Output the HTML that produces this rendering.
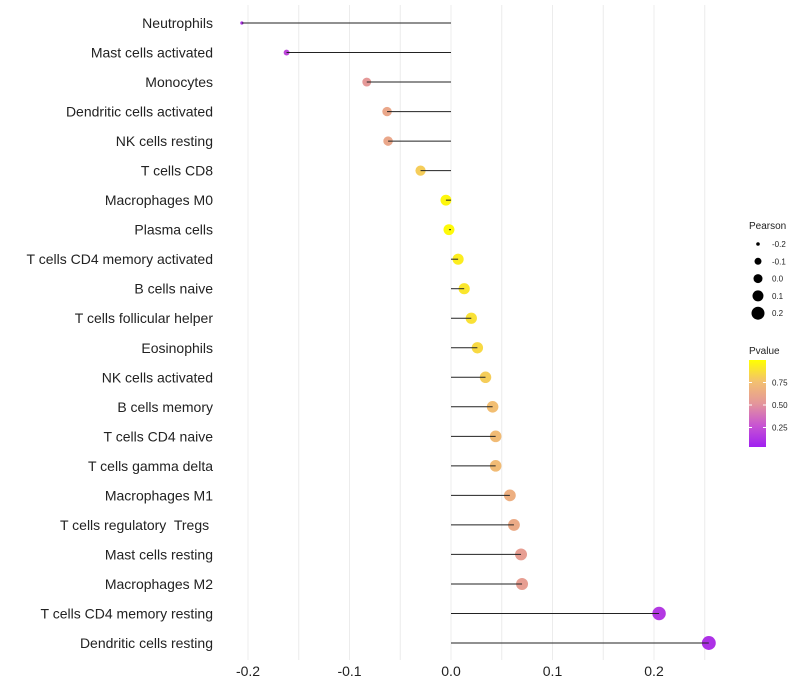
<!DOCTYPE html>
<html><head><meta charset="utf-8"><style>
html,body{margin:0;padding:0;background:#fff;}
svg{display:block;font-family:"Liberation Sans",sans-serif;}
text{white-space:pre;}
</style></head><body>
<svg id="chart" width="800" height="700"></svg>
<script>
const categories=["Neutrophils","Mast cells activated","Monocytes","Dendritic cells activated","NK cells resting","T cells CD8","Macrophages M0","Plasma cells","T cells CD4 memory activated","B cells naive","T cells follicular helper","Eosinophils","NK cells activated","B cells memory","T cells CD4 naive","T cells gamma delta","Macrophages M1","T cells regulatory  Tregs ","Mast cells resting","Macrophages M2","T cells CD4 memory resting","Dendritic cells resting"];
const pearson=[-0.206,-0.162,-0.083,-0.063,-0.062,-0.030,-0.005,-0.002,0.007,0.013,0.020,0.026,0.034,0.041,0.044,0.044,0.058,0.062,0.069,0.070,0.205,0.254];
const pvalue=[0.08,0.18,0.52,0.6,0.6,0.8,0.97,0.98,0.93,0.9,0.88,0.85,0.8,0.74,0.72,0.72,0.65,0.62,0.55,0.55,0.12,0.08];
const xTicks=[-0.2,-0.1,0.0,0.1,0.2];
const xTickLabels=["-0.2","-0.1","0.0","0.1","0.2"];
const sizeLegend=[-0.2,-0.1,0.0,0.1,0.2];
const colorLegend=[0.75,0.50,0.25];

const svg=document.getElementById('chart');
const NS="http://www.w3.org/2000/svg";
function mk(tag,attrs,parent){const e=document.createElementNS(NS,tag);for(const k in attrs)e.setAttribute(k,attrs[k]);(parent||svg).appendChild(e);return e;}
const xScale=v=>451+v*1015;
const yScale=i=>23+i*(620/(categories.length-1));
const rAnch=[[-0.21,1.5],[-0.16,3],[-0.08,4.5],[0,5.5],[0.1,6.2],[0.26,7]];
function rScale(v){if(v<=rAnch[0][0])return rAnch[0][1];for(let i=1;i<rAnch.length;i++){if(v<=rAnch[i][0]){const a=rAnch[i-1],b=rAnch[i];return a[1]+(b[1]-a[1])*(v-a[0])/(b[0]-a[0]);}}return 7;}
const stops=[[0,[160,32,240]],[0.25,[200,85,210]],[0.5,[228,150,155]],[0.75,[243,192,112]],[1,[255,255,0]]];
function color(p){for(let i=1;i<stops.length;i++){if(p<=stops[i][0]){const a=stops[i-1],b=stops[i];const t=(p-a[0])/(b[0]-a[0]);const c=a[1].map((x,j)=>Math.round(x+(b[1][j]-x)*t));return `rgb(${c})`;}}return 'rgb(255,255,0)';}

for(let v=-0.2;v<=0.25001;v+=0.05){const g=mk('line',{x1:xScale(v),x2:xScale(v),y1:5,y2:660,stroke:'#ececec','stroke-width':1});

}
xTicks.forEach((v,i)=>{const t=mk('text',{x:xScale(v),y:676,'text-anchor':'middle','font-size':14,fill:'#222'});t.textContent=xTickLabels[i];

});

categories.forEach((c,i)=>{const y=yScale(i);
const t=mk('text',{x:213,y:y+5,'text-anchor':'end','font-size':14,fill:'#222'});t.textContent=c;


const p=mk('circle',{cx:xScale(pearson[i]),cy:y,r:rScale(pearson[i]),fill:color(pvalue[i])});


const l=mk('line',{x1:xScale(0),x2:xScale(pearson[i]),y1:y,y2:y,stroke:'#222','stroke-width':1});


});

const lt=mk('text',{x:749,y:229,'font-size':10,fill:'#222'});lt.textContent='Pearson';


const legR=[1.8,3.5,4.5,5.5,6.5];
sizeLegend.forEach((v,i)=>{const y=244+i*17.3;
const c=mk('circle',{cx:758,cy:y,r:legR[i],fill:'#000'});


const t=mk('text',{x:772,y:y+3,'font-size':8,fill:'#222'});t.textContent=v.toFixed(1);

});
const pt=mk('text',{x:749,y:354,'font-size':10,fill:'#222'});pt.textContent='Pvalue';


const defs=mk('defs',{});const gr=mk('linearGradient',{id:'pg',x1:0,y1:1,x2:0,y2:0},defs);
stops.forEach(s=>mk('stop',{offset:s[0],'stop-color':`rgb(${s[1]})`},gr));
const bar=mk('rect',{x:749,y:360,width:17,height:87,fill:'url(#pg)'});


colorLegend.forEach(v=>{const y=450-v*90;
mk('line',{x1:749,x2:752,y1:y,y2:y,stroke:'#fff'});mk('line',{x1:763,x2:766,y1:y,y2:y,stroke:'#fff'});
const t=mk('text',{x:772,y:y+3,'font-size':8,fill:'#222'});t.textContent=v.toFixed(2);

});
</script>
</body></html>
